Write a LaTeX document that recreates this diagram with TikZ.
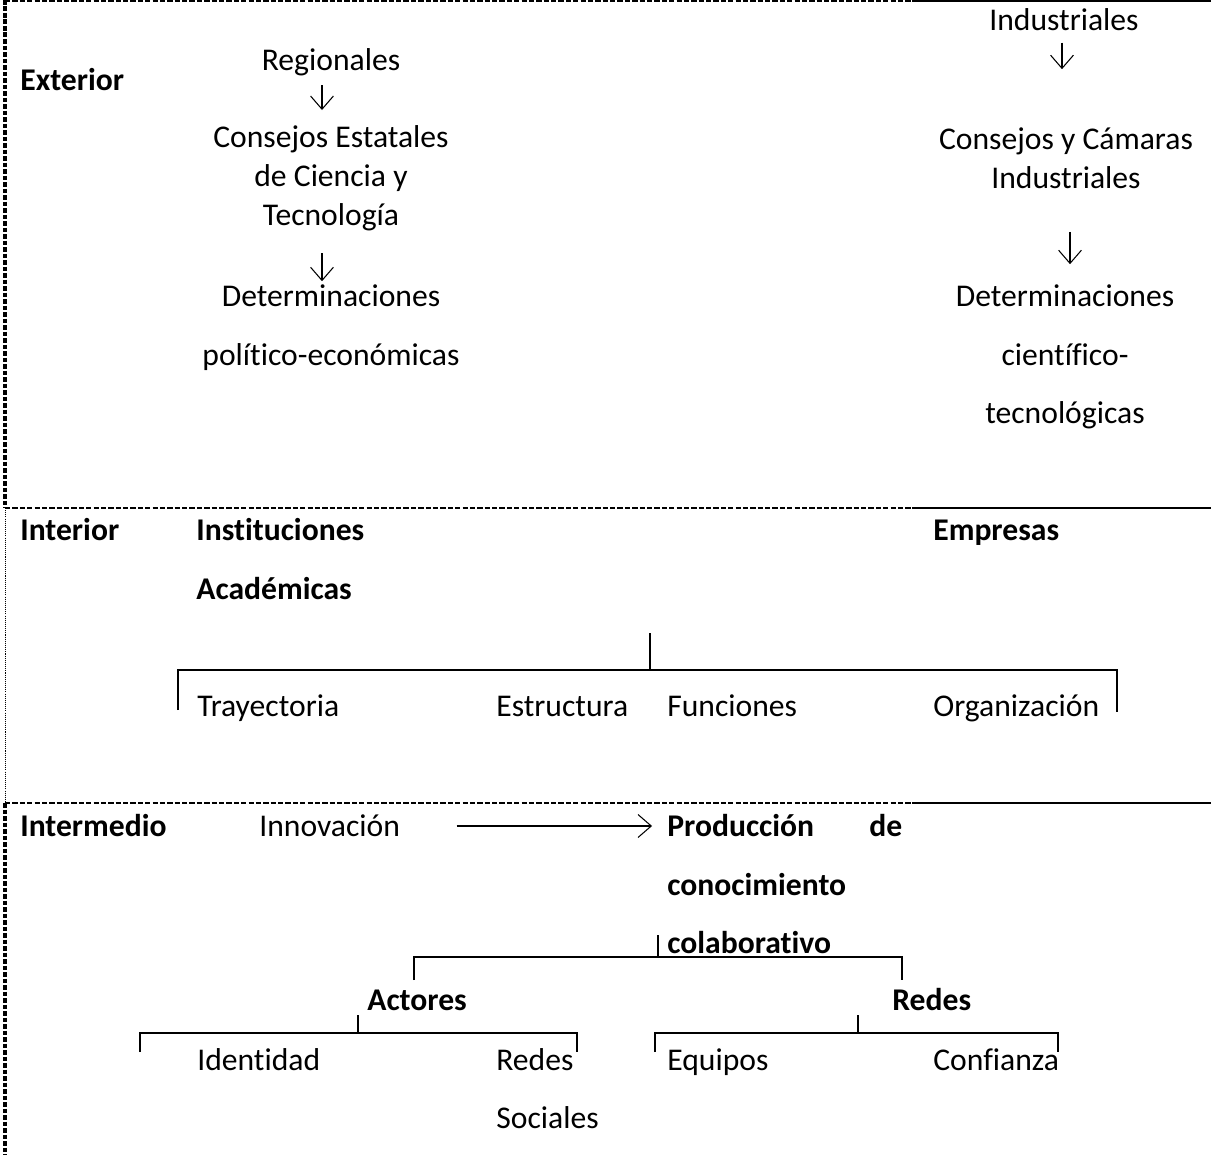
\documentclass[tikz,border=0pt]{standalone}
\usepackage{fontspec}
\setmainfont{Carlito}[Ligatures=NoCommon]
\usetikzlibrary{arrows.meta}
\newcommand{\letra}{\fontsize{18}{22.2}\selectfont}

\begin{document}
\begin{tikzpicture}[x=0.02cm,y=-0.02cm,
  bloque/.style={font=\letra,inner sep=0pt,align=center},
  texto/.style={font=\letra,inner sep=0pt,text height=14.4pt,text depth=2pt},
  negrita/.style={texto,font=\letra\bfseries},
  flecha/.style={line width=0.6pt,-{Straight Barb[length=7.5pt,width=13pt]}},
  raya/.style={line width=1.1pt,dash pattern=on 3pt off 1.2pt},
  linea/.style={line width=1.1pt},
  marco/.style={line width=1.8pt,dash pattern=on 2.6pt off 1.1pt},
  puntos/.style={line width=0.4pt,dash pattern=on 0.6pt off 0.6pt},
  llave/.style={line width=1pt}]
\useasboundingbox (0,0) rectangle (1211,1155);

\draw[marco] (5,0) -- (5,508);
\draw[puntos] (5,508) -- (5,803);
\draw[marco] (5,803) -- (5,1155);
\draw[raya] (5,1) -- (912,1);
\draw[linea] (912,1) -- (1211,1);
\draw[raya] (5,508) -- (912,508);
\draw[linea] (912,508) -- (1211,508);
\draw[raya] (5,803) -- (912,803);
\draw[linea] (912,803) -- (1211,803);

\coordinate (colA) at (322,0);
\coordinate (colB) at (1062,0);
\coordinate (colC) at (1070,0);

\node[negrita,anchor=west] (ext) at (20,80) {Exterior};
\node[texto] (reg) at (331,60) {Regionales};
\node[bloque] (cet) at (331,178) {Consejos Estatales\\de Ciencia y\\Tecnología};
\node[texto] (dpe1) at (331,296) {Determinaciones};
\node[texto] (dpe2) at (331,355) {político-económicas};
\node[texto] (ind) at (1064,20) {Industriales};
\node[bloque] (ccam) at (1066,158) {Consejos y Cámaras\\Industriales};
\node[texto] (dct1) at (1065,296) {Determinaciones};
\node[texto] (dct2) at (1065,355) {científico-};
\node[texto] (dct3) at (1065,413) {tecnológicas};

\draw[flecha,shorten <=6pt,shorten >=8.5pt] (reg.south -| colA) -- (cet.north -| colA);
\draw[flecha,shorten <=12.5pt] (cet.south -| colA) -- (dpe1.north -| colA);
\draw[flecha,shorten <=4.5pt,shorten >=33pt] (ind.south -| colB) -- (ccam.north -| colB);
\draw[flecha,shorten <=24.5pt,shorten >=9.7pt] (ccam.south -| colC) -- (dct1.north -| colC);

\node[negrita,anchor=west] (int) at (20,530) {Interior};
\node[negrita,anchor=west] (ins1) at (196,530) {Instituciones};
\node[negrita,anchor=west] (ins2) at (196,589) {Académicas};
\node[negrita,anchor=west] (emp) at (933,530) {Empresas};
\node[texto,anchor=west] (tra) at (197,706) {Trayectoria};
\node[texto,anchor=west] (est) at (496,706) {Estructura};
\node[texto,anchor=west] (fun) at (667,706) {Funciones};
\node[texto,anchor=west] (org) at (933,706) {Organización};

\draw[llave] (650,633) -- (650,670);
\draw[llave] (178,710) -- (178,670) -- (1117,670) -- (1117,712);

\node[negrita,anchor=west] (itm) at (20,826) {Intermedio};
\node[texto,anchor=west] (inn) at (259,826) {Innovación};
\node[negrita,anchor=west,text width=4.7cm] (pro) at (667,826) {Producción\hfill de};
\node[negrita,anchor=west] (con) at (667,885) {conocimiento};
\node[negrita,anchor=west] (col) at (667,943) {colaborativo};
\node[negrita,anchor=west] (act) at (367,1000) {Actores};
\node[negrita,anchor=west] (red) at (892,1000) {Redes};
\node[texto,anchor=west] (ide) at (197,1060) {Identidad};
\node[texto,anchor=west] (rs1) at (496,1060) {Redes};
\node[texto,anchor=west] (rs2) at (496,1118) {Sociales};
\node[texto,anchor=west] (equ) at (667,1060) {Equipos};
\node[texto,anchor=west] (cnf) at (933,1060) {Confianza};

\draw[flecha,shorten <=32pt,shorten >=8.5pt] (inn.east) -- (pro.west);

\draw[llave] (658,935) -- (658,957);
\draw[llave] (414,980) -- (414,957) -- (902,957) -- (902,980);
\draw[llave] (358,1015) -- (358,1033);
\draw[llave] (140,1052) -- (140,1033) -- (577,1033) -- (577,1052);
\draw[llave] (858,1015) -- (858,1033);
\draw[llave] (655,1052) -- (655,1033) -- (1058,1033) -- (1058,1052);
\end{tikzpicture}
\end{document}
